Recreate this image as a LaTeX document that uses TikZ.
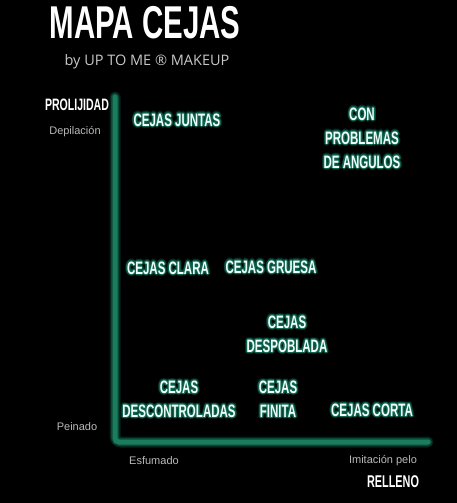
\documentclass[tikz,border=0pt]{standalone}
\usepackage{fontspec}
\setmainfont{Liberation Sans}
\newfontfamily\cond{Liberation Sans}[FakeStretch=0.64]
\newfontfamily\subfont{Open Sans}
\definecolor{axisgreen}{RGB}{28,125,90}
\definecolor{glowc}{RGB}{14,100,80}
\definecolor{labc}{RGB}{240,255,248}
\definecolor{smallc}{RGB}{185,185,185}
\tikzset{
  cat/.style={text=labc, font=\cond\bfseries\fontsize{18}{24}\selectfont, align=center, inner sep=0pt},
  catglow/.style={cat, text=glowc},
  catglowb/.style={cat, text=glowc, opacity=0.35},
  axtitle/.style={text=white, font=\cond\bfseries\fontsize{17}{20}\selectfont, inner sep=0pt},
  small/.style={text=smallc, font=\fontsize{11}{13}\selectfont, inner sep=0pt, anchor=base},
}
\newcommand\glowlabel[3]{%
  \foreach \dx/\dy in {2.2/0,-2.2/0,0/2.2,0/-2.2,1.6/1.6,-1.6/1.6,1.6/-1.6,-1.6/-1.6}
    {\node[catglowb, xshift=\dx pt, yshift=\dy pt] at (#2) {#3};}
  \foreach \dx/\dy in {1.1/0,-1.1/0,0/1.1,0/-1.1,0.8/0.8,-0.8/0.8,0.8/-0.8,-0.8/-0.8}
    {\node[catglow, xshift=\dx pt, yshift=\dy pt] at (#2) {#3};}
  \node[cat] (#1) at (#2) {#3};}
\begin{document}
\begin{tikzpicture}[x=1pt,y=-1pt]
\fill[black] (0,0) rectangle (457,503);
\useasboundingbox (0,0) rectangle (457,503);
% title
\node[text=white, font=\cond\bfseries\fontsize{46}{50}\selectfont, inner sep=0pt] (title) at (145,22.5) {MAPA CEJAS};
\node[text=smallc!80!white, font=\subfont\fontsize{14.5}{16}\selectfont, inner sep=0pt] (sub) at (147,62) {by UP TO ME \textregistered{} MAKEUP};
% axes
\coordinate (ytop) at (115,97);
\coordinate (orig) at (115,442);
\coordinate (xend) at (428,442);
\draw[glowc, opacity=0.35, line width=11pt, line cap=round, rounded corners=6pt] (ytop) -- (orig) -- (xend);
\draw[glowc, opacity=0.6, line width=8pt, line cap=round, rounded corners=5pt] (ytop) -- (orig) -- (xend);
\draw[axisgreen, line width=5pt, line cap=round, rounded corners=4pt] (ytop) -- (orig) -- (xend);
% axis labels
\node[axtitle, font=\cond\bfseries\fontsize{16.5}{20}\selectfont] (prol) at (77,105) {PROLIJIDAD};
\node[small] (depil) at (75,134) {Depilación};
\node[small] (pein) at (77,430) {Peinado};
\node[small] (esfu) at (154,464) {Esfumado};
\node[small] (imit) at (383,463) {Imitación pelo};
\node[axtitle] (rell) at (393,482) {RELLENO};
% categories
\glowlabel{juntas}{177,120}{CEJAS JUNTAS}
\glowlabel{angulos}{362,138}{CON\\PROBLEMAS\\DE ANGULOS}
\glowlabel{clara}{168,268}{CEJAS CLARA}
\glowlabel{gruesa}{271,267}{CEJAS GRUESA}
\glowlabel{despob}{287,334}{CEJAS\\DESPOBLADA}
\glowlabel{descon}{179,399}{CEJAS\\DESCONTROLADAS}
\glowlabel{finita}{278,399}{CEJAS\\FINITA}
\glowlabel{corta}{372,410}{CEJAS CORTA}
\end{tikzpicture}
\end{document}
